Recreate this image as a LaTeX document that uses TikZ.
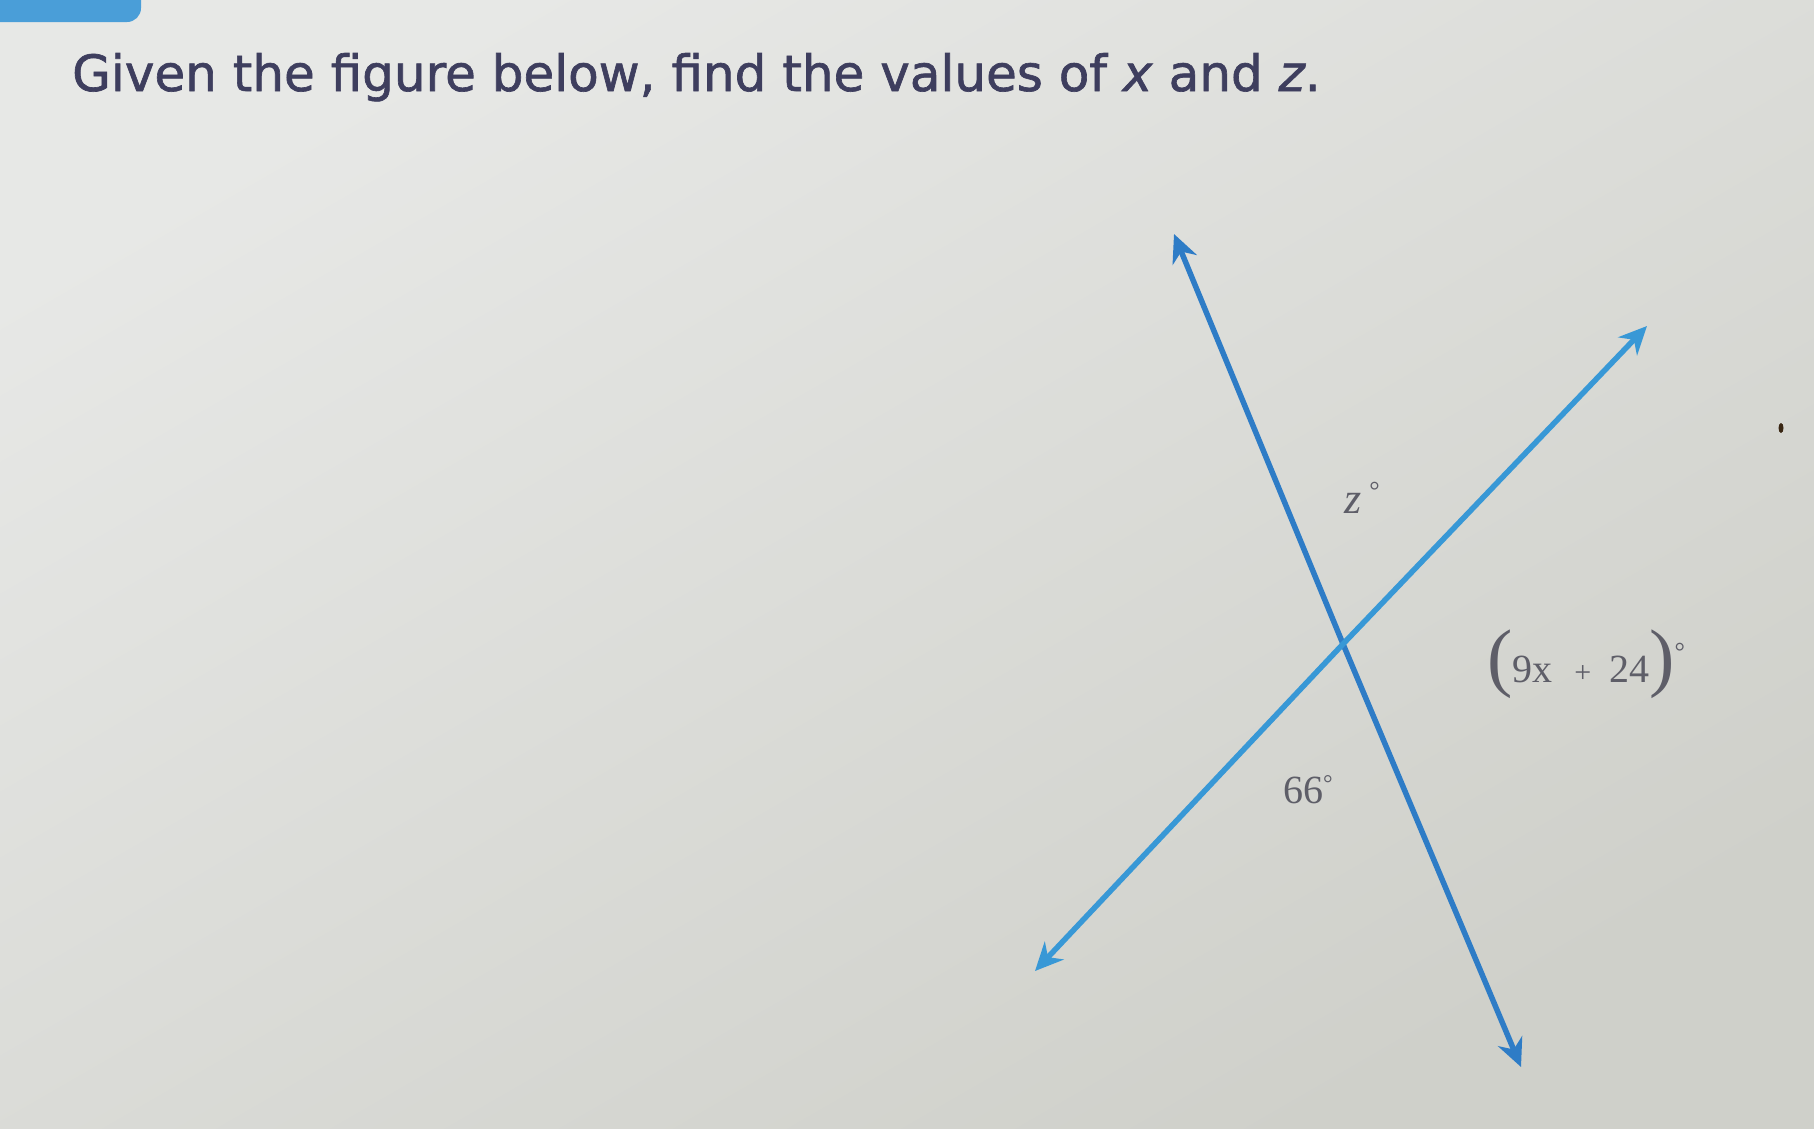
\documentclass[tikz,border=0pt]{standalone}
\usepackage{fontspec}
\setmainfont{Liberation Serif}
\newfontfamily\titlefont[FakeBold=1.3]{DejaVu Sans}
\usetikzlibrary{arrows.meta}
\definecolor{bglight}{HTML}{E7E8E6}
\definecolor{bgdark}{HTML}{CFD0CA}
\definecolor{steepblue}{HTML}{2E7CC6}
\definecolor{shallowblue}{HTML}{3898D6}
\definecolor{titlecol}{HTML}{3E3E5E}
\definecolor{labelcol}{HTML}{5E5E68}
\definecolor{tabblue}{HTML}{4A9ED8}
\begin{document}
\begin{tikzpicture}[x=1pt,y=-1pt,
  lineboth/.style={line width=5.5pt,{Stealth[length=28pt,width=26pt,inset=9pt]}-{Stealth[length=28pt,width=26pt,inset=9pt]}},
  anglabel/.style={text=labelcol,inner sep=0pt},
  titletext/.style={text=titlecol,inner sep=0pt,anchor=base west,font=\titlefont\fontsize{50}{60}\selectfont}]
\useasboundingbox (0,0) rectangle (1814,1128);
\shade[top color=bglight,bottom color=bgdark,shading angle=30] (0,0) rectangle (1814,1128);
% tab at top left
\fill[tabblue,rounded corners=14pt] (-30,-30) rectangle (141,22);
% title
\node[titletext] (title) at (72,91) {Given the figure below, find the values of \textit{x} and \textit{z}.};
% points
\coordinate (O) at (1343,644);
\coordinate (S1) at (1174,234);
\coordinate (S2) at (1521,1067);
\coordinate (T1) at (1647,326);
\coordinate (T2) at (1035,971);
% lines
\draw[lineboth,draw=steepblue,color=steepblue] (S1) -- (O) -- (S2);
\draw[lineboth,draw=shallowblue,color=shallowblue] (T2) -- (O) -- (T1);
% labels
\node[anglabel,font=\fontsize{44}{48}\selectfont] (zlab) at (1362,498) {\textit{z}\hspace{8pt}\raisebox{14pt}{\fontsize{26}{28}\selectfont °}};
\node[anglabel,font=\fontsize{40}{44}\selectfont] (xlab) at (1586,664) {{\fontsize{76}{80}\selectfont(}9x\hspace{22pt}{\fontsize{30}{32}\selectfont+}\hspace{18pt}24{\fontsize{76}{80}\selectfont)}\raisebox{22pt}{\fontsize{26}{28}\selectfont °}};
\node[anglabel,font=\fontsize{40}{44}\selectfont] (ssl) at (1308,790) {66\raisebox{12pt}{\fontsize{24}{26}\selectfont °}};
% speck
\fill[black!70!brown] (1781,428) ellipse (2.5pt and 5pt);
\end{tikzpicture}
\end{document}
